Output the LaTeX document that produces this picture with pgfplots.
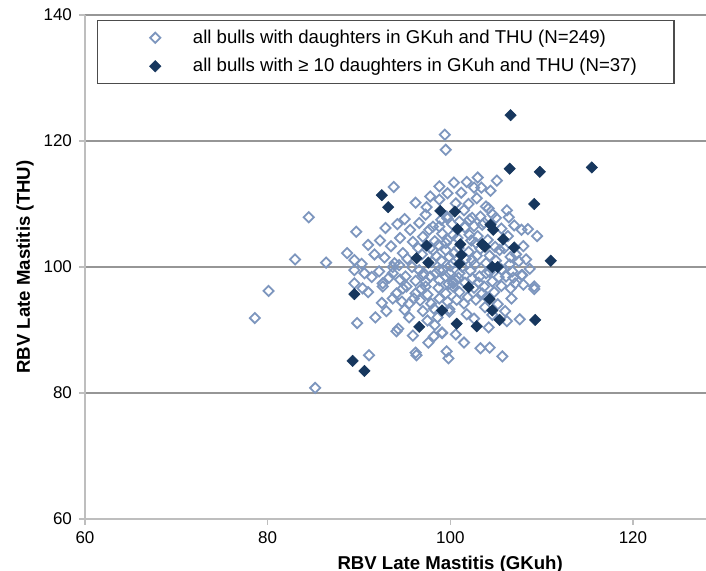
\documentclass[border=0pt]{standalone}
\usepackage{pgfplots}
\pgfplotsset{compat=1.18}
\usepackage{fontspec}
\setmainfont{Liberation Sans}
\definecolor{openblue}{RGB}{125,150,190}
\definecolor{navy}{RGB}{23,55,94}
\definecolor{gridgray}{RGB}{150,150,150}
\definecolor{axisgray}{RGB}{190,190,190}
\begin{document}
\begin{tikzpicture}
\begin{axis}[
  scale only axis, width=310.5pt, height=252pt,
  xmin=60, xmax=128, ymin=60, ymax=140,
  xtick={60,80,100,120}, ytick={60,80,100,120,140},
  axis x line*=bottom, axis y line*=left,
  axis line style={axisgray, line width=1pt},
  ymajorgrids, major grid style={gridgray, line width=0.6pt},
  tick style={axisgray, line width=0.6pt}, tick align=outside, major tick length=3pt,
  tick label style={font=\fontsize{8.5}{10}\selectfont, text=black},
  /pgf/number format/assume math mode=true,
  xlabel={RBV Late Mastitis (GKuh)},
  ylabel={RBV Late Mastitis (THU)},
  label style={font=\bfseries\fontsize{9.3}{11}\selectfont},
  xlabel style={at={(ticklabel cs:0.588)}, yshift=1pt},
  ylabel style={yshift=-2pt},
  legend style={at={(0,1)}, anchor=north west, xshift=6pt, yshift=-2.5pt,
    draw=black!70, line width=0.6pt, fill=white, inner xsep=26pt, inner ysep=2.5pt,
    row sep=2pt, font=\fontsize{9.3}{11}\selectfont,
    /tikz/every odd column/.append style={column sep=14pt}},
  legend cell align=left,
]
\coordinate (sw) at (rel axis cs:0,0);
\coordinate (ne) at (rel axis cs:1,1);
\addplot[only marks, mark=square, mark size=1.8pt, mark options={draw=openblue, line width=0.9pt, rotate=45}] coordinates {
(99.4,121.0)(99.5,118.6)(93.8,112.7)(84.5,107.9)(89.7,105.6)(92.9,106.2)(92.3,104.2)(94.5,104.6)(83.0,101.2)(86.4,100.7)
(88.7,102.2)(89.5,101.1)(90.3,100.5)(91.7,102.0)(89.5,99.5)(80.1,96.2)(98.8,112.8)(97.8,111.2)(99.7,111.7)(98.8,110.7)
(98.1,106.4)(98.8,106.4)(97.7,105.9)(99.7,107.7)(99.7,104.3)(98.1,102.7)(99.5,102.7)(94.8,102.2)(93.9,100.6)(94.4,100.3)
(93.7,99.0)(95.1,98.5)(96.6,99.5)(98.8,99.5)(100.3,100.6)(97.3,97.7)(98.8,97.9)(99.5,98.5)(100.3,97.7)(89.5,97.4)(92.6,97.4)
(105.1,113.7)(103.4,112.6)(104.4,112.1)(102.0,110.0)(104.2,109.3)(106.4,107.9)(107.8,105.9)(109.5,104.9)(108.0,103.3)(99.0,107.5)
(99.6,108.0)(102.1,107.5)(102.4,107.8)(103.3,108.0)(103.5,106.7)(100.3,105.1)(102.1,105.1)(102.8,103.8)(99.5,103.8)(105.4,102.7)
(106.6,101.6)(99.9,101.6)(102.4,101.1)(103.9,100.6)(106.8,99.3)(107.8,98.7)(106.1,98.5)(109.2,96.9)(99.2,99.5)(101.0,99.0)
(103.2,98.5)(104.6,97.7)(100.3,97.4)
(78.6,91.9)(85.2,80.8)(91.1,86.0)(90.4,96.6)(89.8,91.1)(91.8,92.0)(94.3,90.2)(94.1,89.8)(98.2,89.0)(99.1,89.5)
(96.2,86.4)(96.3,86.0)(99.6,86.6)(99.8,85.5)(95.5,92.0)(93.7,100.0)(92.6,96.9)(94.1,95.8)(93.7,95.0)(94.8,96.6)
(95.5,94.2)(96.2,95.8)(97.3,96.9)(97.9,94.2)(98.8,95.0)(98.6,92.0)(99.9,93.3)(97.0,98.7)(98.4,99.0)(99.9,99.0)
(99.5,95.8)(100.3,96.9)
(109.2,96.5)(106.7,95.0)(107.6,91.7)(103.3,87.1)(104.3,87.2)(105.7,85.8)(99.1,89.6)(107.9,98.7)(106.6,96.6)(103.5,95.8)
(101.5,94.2)(102.8,94.8)(99.9,92.9)(104.6,92.4)(100.6,97.9)(102.4,98.2)(103.9,99.0)
(96.5,103.0)(97.0,104.8)(98.3,104.1)(100.8,104.6)(101.6,106.3)(102.6,106.5)(103.0,104.9)(104.1,104.3)(104.9,103.2)(105.9,103.0)
(106.3,104.9)(105.6,106.1)(105.0,107.8)(103.9,109.6)(102.9,110.9)(101.2,111.8)(100.6,110.1)(101.5,109.0)(100.2,106.8)(97.3,108.3)
(96.6,107.0)(95.6,105.9)(95.9,104.0)(96.9,102.0)(95.3,101.3)(95.8,100.0)(96.2,97.8)(95.2,96.9)(96.8,96.5)(97.8,98.5)
(98.0,100.8)(99.0,101.0)(100.4,102.2)(101.3,100.0)(102.0,102.4)(102.9,101.8)(103.3,102.9)(104.3,101.8)(105.0,101.0)(104.3,99.2)
(105.6,99.6)(106.5,100.4)(107.5,100.9)(107.2,102.0)(108.3,101.2)(108.7,99.7)(108.0,97.2)(107.1,97.4)(105.6,97.0)(104.8,96.0)
(103.7,96.9)(102.6,96.7)(101.6,97.5)(101.0,96.0)(101.9,95.2)(100.7,94.8)(99.7,94.5)(98.2,93.4)(97.0,93.0)(96.7,94.7)
(95.0,93.2)(94.7,94.5)(94.5,98.0)(93.3,98.3)(92.2,99.3)(91.4,98.4)(91.0,96.0)(92.5,94.3)(93.0,93.0)(97.5,91.5)
(98.3,90.8)(100.6,89.3)(101.8,92.5)(102.6,91.8)(103.8,93.6)(105.2,94.1)(106.0,93.0)(106.2,91.4)(104.2,90.4)(101.5,88.0)
(97.6,88.0)(95.9,89.1)(102.2,99.4)(100.9,98.3)(99.8,97.3)(97.5,95.6)(96.0,95.0)(98.7,96.7)(102.7,100.4)(101.7,101.3)
(100.0,100.2)(98.5,101.7)(97.1,99.0)(103.1,97.5)(104.0,95.2)(105.3,98.4)(106.9,98.3)(98.7,103.5)(97.8,103.0)(100.9,103.0)
(102.3,104.2)(99.1,105.3)(101.0,107.2)(103.7,107.0)(104.6,108.4)(102.6,112.6)(100.4,113.4)(97.4,109.5)(96.2,110.2)(95.0,107.6)
(94.2,106.8)(93.5,103.3)(92.8,101.5)(91.0,103.5)(90.6,99.0)(106.2,109.0)(107.0,106.6)(108.5,106.0)(103.0,114.2)(101.8,113.5)
};
\addlegendentry{\makebox[212.5pt][l]{all bulls with daughters in GKuh and THU (N=249)}}
\addplot[only marks, mark=square*, mark size=2pt, mark options={draw=navy, fill=navy, line width=0.3pt, rotate=45}] coordinates {
(106.6,124.1)(106.5,115.6)(109.8,115.1)(115.5,115.8)(109.2,110.0)(111.0,101.0)(92.5,111.4)(93.2,109.5)(98.9,108.9)(100.5,108.8)
(100.8,106.0)(101.1,103.6)(101.2,101.9)(104.4,106.7)(104.7,105.9)(105.8,104.4)(107.0,103.1)(103.5,103.6)(105.2,100.0)(104.6,100.0)
(102.0,96.8)(97.4,103.4)(96.3,101.4)(97.6,100.7)(89.3,85.1)(90.6,83.5)(89.5,95.7)(96.6,90.5)(99.1,93.1)(100.7,91.0)
(102.9,90.6)(105.4,91.6)(109.3,91.6)(104.3,94.9)(104.6,93.1)(101.0,100.5)(103.8,103.2)
};
\addlegendentry{\makebox[212.5pt][l]{all bulls with ≥ 10 daughters in GKuh and THU (N=37)}}
\end{axis}
\pgfresetboundingbox
\path ([xshift=-42.5pt,yshift=-26pt]sw) rectangle ([yshift=7.5pt]ne);
\end{tikzpicture}
\end{document}
